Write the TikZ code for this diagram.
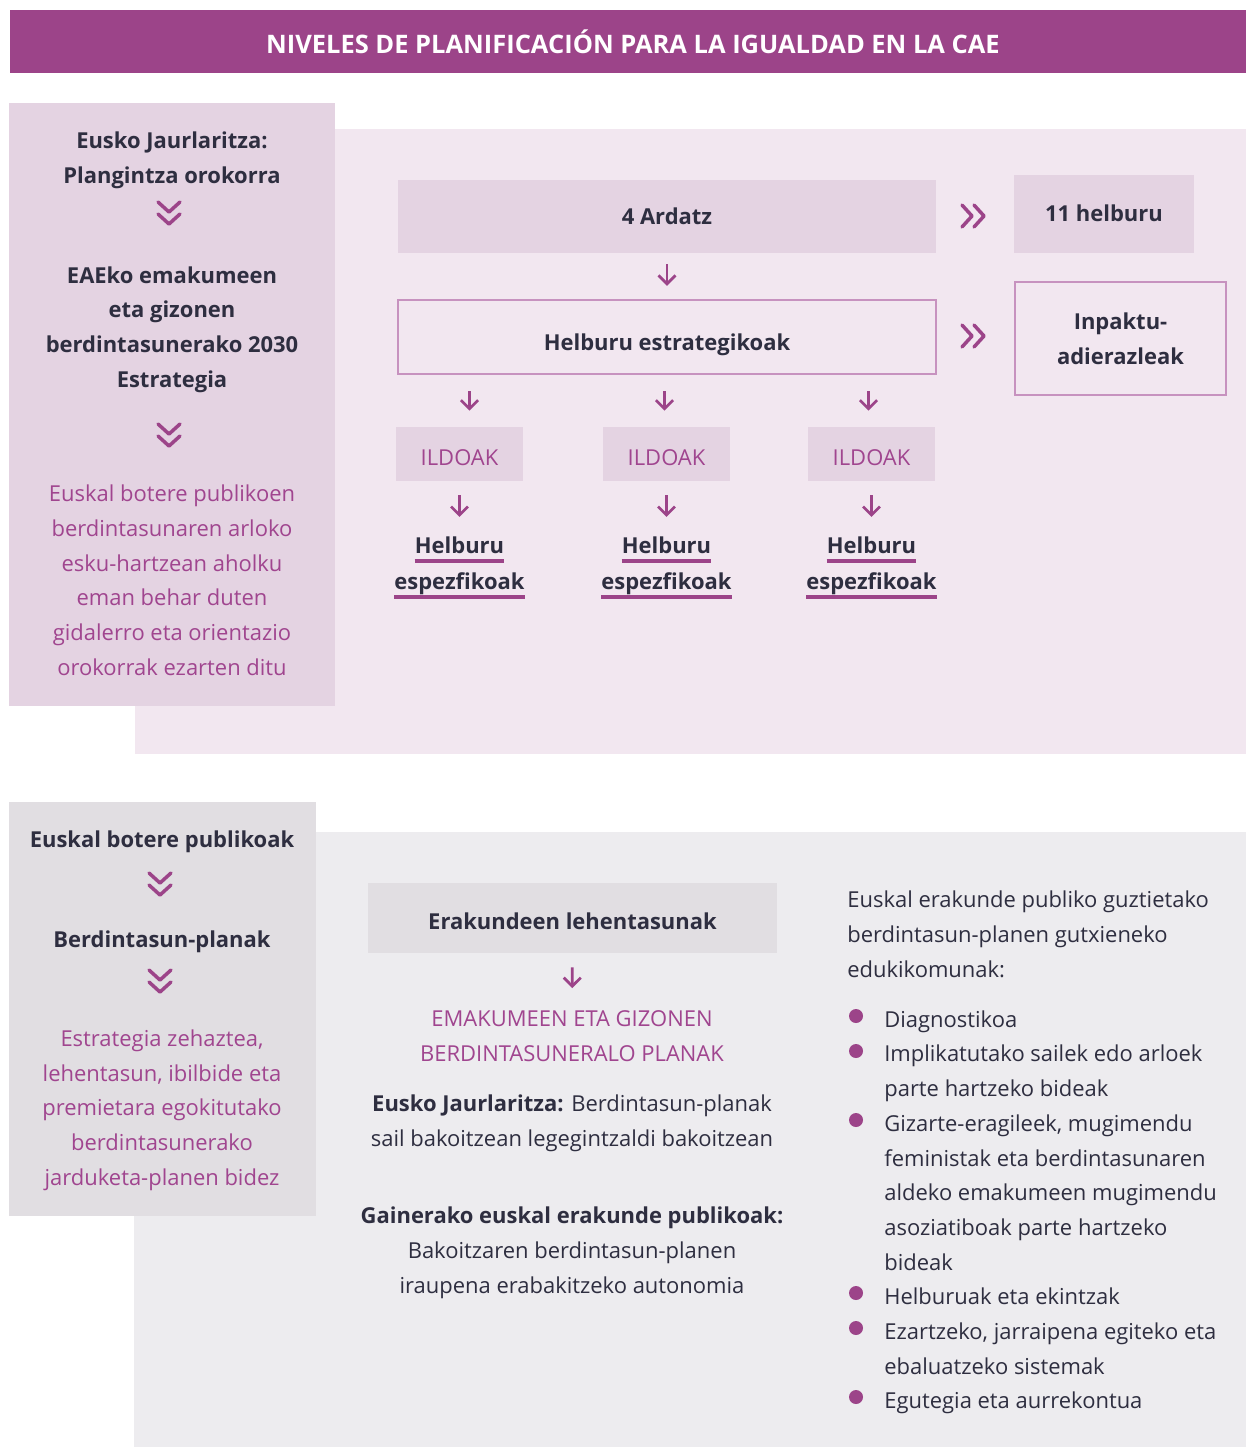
\documentclass[tikz,border=0pt]{standalone}
\usepackage{fontspec}
\setmainfont{Open Sans}
\usetikzlibrary{arrows.meta,calc}
\definecolor{plum}{HTML}{9C4489}
\definecolor{plumtxt}{HTML}{A0458F}
\definecolor{ink}{HTML}{2E2E40}
\definecolor{lilac}{HTML}{E4D3E2}
\definecolor{lilacbg}{HTML}{F2E7F0}
\definecolor{lilacline}{HTML}{C792BF}
\definecolor{greybox}{HTML}{E1DEE2}
\definecolor{greybg}{HTML}{EDECEF}
\newcommand{\chevdown}[2]{%
  \draw[chev] (#1-11,#2-11) -- (#1,#2-1) -- (#1+11,#2-11);
  \draw[chev] (#1-11,#2+1) -- (#1,#2+11) -- (#1+11,#2+1);}
\newcommand{\chevright}[2]{%
  \draw[chev] (#1-12,#2-11) -- (#1-2,#2) -- (#1-12,#2+11);
  \draw[chev] (#1,#2-11) -- (#1+10,#2) -- (#1,#2+11);}
\newcommand{\txtsize}{\fontsize{12.5}{19.7}\selectfont}

\begin{document}
\begin{tikzpicture}[x=0.02cm,y=-0.02cm,
  txt/.style={inner sep=0pt,text=ink,font=\txtsize,align=center},
  bold/.style={txt,font=\txtsize\bfseries},
  pink/.style={txt,text=plumtxt},
  box/.style={inner sep=0pt,text=ink,font=\txtsize\bfseries,text height=9pt,text depth=0pt},
  fillbox/.style={box,fill=lilac},
  linebox/.style={box,draw=lilacline,line width=0.05cm,fill=lilacbg},
  arr/.style={draw=plum,line width=0.055cm,-{Straight Barb[length=0.17cm,width=0.34cm]}},
  chev/.style={draw=plum,line width=0.07cm,line cap=round,line join=round},
  uline/.style={draw=plum,line width=0.08cm}]
\useasboundingbox (0,0) rectangle (1246,1447);
% backgrounds
\fill[plum] (10,10) rectangle (1246,73);
\fill[lilacbg] (135,129) rectangle (1246,754);
\fill[lilac] (9,103) rectangle (335,706);
\fill[greybg] (134,832) rectangle (1246,1447);
\fill[greybox] (9,802) rectangle (316,1216);
\node[font=\fontsize{14.5}{16}\selectfont\bfseries,text=white,inner sep=0pt] (title) at (633,42)
  {NIVELES DE PLANIFICACIÓN PARA LA IGUALDAD EN LA CAE};

% top: left column (base = last line)
\node[bold,anchor=base] (gov) at (172,183) {Eusko Jaurlaritza:\\Plangintza orokorra};
\chevdown{169}{213}
\node[bold,anchor=base] (strat) at (172,387) {EAEko emakumeen\\eta gizonen\\berdintasunerako 2030\\Estrategia};
\chevdown{169}{435}
\node[pink,anchor=base] (guide) at (172,675) {Euskal botere publikoen\\berdintasunaren arloko\\esku-hartzean aholku\\eman behar duten\\gidalerro eta orientazio\\orokorrak ezarten ditu};

% top: right part
\node[fillbox,minimum width=10.76cm,minimum height=1.46cm] (ardatz) at (667,216.5) {4 Ardatz};
\node[fillbox,minimum width=3.6cm,minimum height=1.56cm] (hel11) at (1104,214) {11 helburu};
\node[linebox,minimum width=10.76cm,minimum height=1.48cm] (estrat) at (667,337) {\raisebox{-3pt}{Helburu estrategikoak}};
\node[linebox,text height=,text depth=,align=center,font=\txtsize\bfseries,minimum width=4.22cm,minimum height=2.26cm] (inpakt) at (1120.5,338.5) {Inpaktu-\\adierazleak};
\chevright{974}{216}
\chevright{974}{336}
\draw[arr,shorten <=0.22cm,shorten >=0.26cm] (ardatz) -- (estrat);
\foreach \x/\dx [count=\i] in {459.5/10,666.5/-2,871.5/-3} {
  \node[box,fill=lilac,font=\txtsize,text=plumtxt,minimum width=2.54cm,minimum height=1.08cm] (il\i) at (\x,454) {\raisebox{-2pt}{ILDOAK}};
  \draw[arr,shorten <=0.32cm,shorten >=0.32cm] ([xshift=\dx*0.02cm]estrat.south -| il\i) -- ([xshift=\dx*0.02cm]il\i.north);
  \node[bold,anchor=base] (hA\i) at (\x,553) {Helburu};
  \node[bold,anchor=base] (hB\i) at (\x,589) {espezfikoak};
  \draw[arr,shorten <=0.28cm,shorten >=0.38cm] (il\i.south) -- (hA\i.north);
  \draw[uline] ([yshift=-0.16cm]hA\i.base west) -- ([yshift=-0.16cm]hA\i.base east);
  \draw[uline] ([yshift=-0.16cm]hB\i.base west) -- ([yshift=-0.16cm]hB\i.base east);
}

% bottom: left column
\node[bold,anchor=base] (power) at (162,847) {Euskal botere publikoak};
\chevdown{160}{884}
\node[bold,anchor=base] (plans) at (162,947) {Berdintasun-planak};
\chevdown{160}{981}
\node[pink,anchor=base] (tune) at (162,1185) {Estrategia zehaztea,\\lehentasun, ibilbide eta\\premietara egokitutako\\berdintasunerako\\jarduketa-planen bidez};

% bottom: middle
\node[box,fill=greybox,minimum width=8.18cm,minimum height=1.4cm] (erak) at (572.5,918) {\raisebox{-2pt}{Erakundeen lehentasunak}};
\node[pink,anchor=base] (caps) at (572,1061) {EMAKUMEEN ETA GIZONEN\\BERDINTASUNERALO PLANAK};
\draw[arr,shorten <=0.28cm,shorten >=0.44cm] (erak) -- (caps);
\node[txt,anchor=base] (ej) at (572,1146) {\textbf{Eusko Jaurlaritza:} Berdintasun-planak\\sail bakoitzean legegintzaldi bakoitzean};
\node[txt,anchor=base] (gain) at (572,1293) {\textbf{Gainerako euskal erakunde publikoak:}\\Bakoitzaren berdintasun-planen\\iraupena erabakitzeko autonomia};

% bottom: right list
\node[txt,align=left,anchor=base west] (intro) at (847,977) {Euskal erakunde publiko guztietako\\berdintasun-planen gutxieneko\\edukikomunak:};
\foreach \d/\y/\t [count=\i] in {1016/1027/Diagnostikoa,
  1051/1096/{Implikatutako sailek edo arloek\\parte hartzeko bideak},
  1120/1270/{Gizarte-eragileek, mugimendu\\feministak eta berdintasunaren\\aldeko emakumeen mugimendu\\asoziatiboak parte hartzeko\\bideak},
  1293/1304/{Helburuak eta ekintzak},
  1328/1374/{Ezartzeko, jarraipena egiteko eta\\ebaluatzeko sistemak},
  1397/1408/{Egutegia eta aurrekontua}} {
  \fill[plum] (856,\d) circle (0.14cm);
  \node[txt,align=left,anchor=base west] (li\i) at (884,\y) {\t};
}
\end{tikzpicture}
\end{document}
